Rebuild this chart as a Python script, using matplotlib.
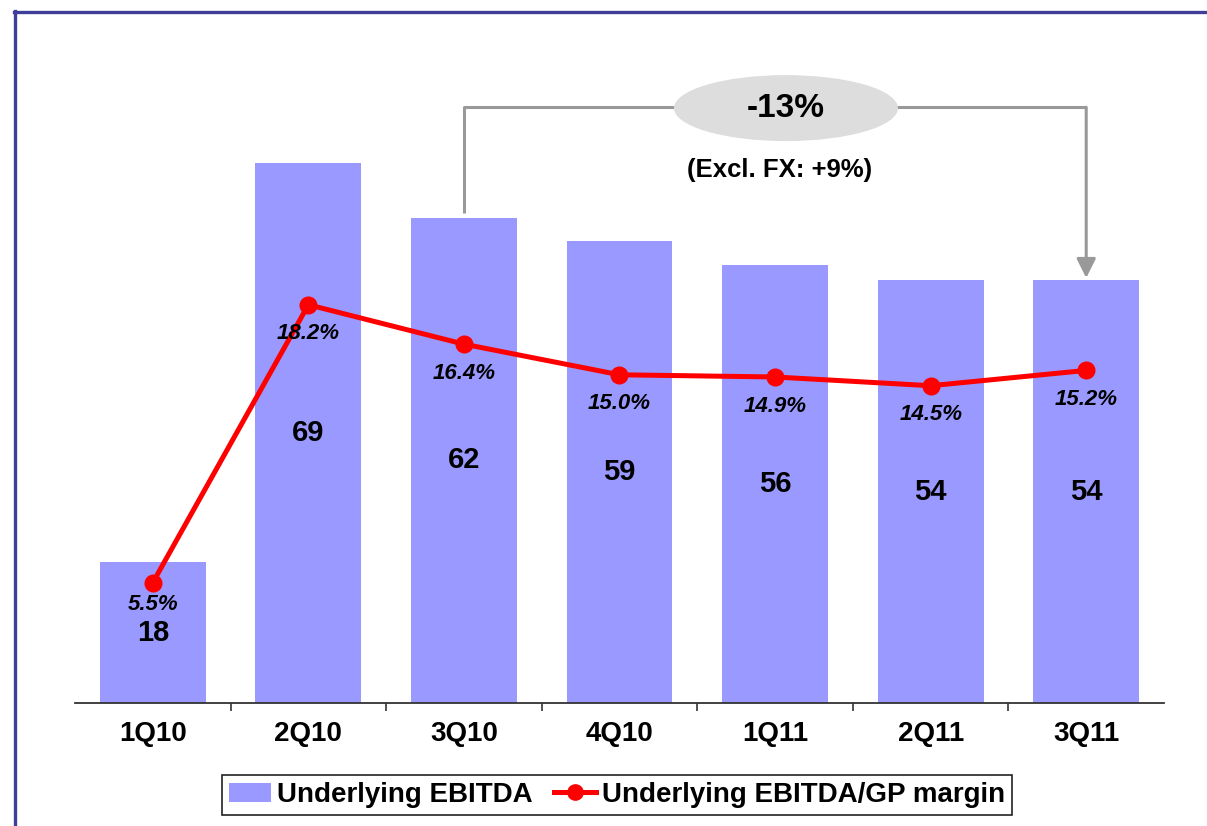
import matplotlib
matplotlib.use("Agg")
import matplotlib.pyplot as plt
from matplotlib.patches import Ellipse, Patch
from matplotlib.lines import Line2D

plt.rcParams["font.family"] = ["Liberation Sans", "DejaVu Sans"]
plt.rcParams["font.weight"] = "bold"

# ---------------------------------------------------------------------------
# Data
# ---------------------------------------------------------------------------
quarters = ["1Q10", "2Q10", "3Q10", "4Q10", "1Q11", "2Q11", "3Q11"]
ebitda = [18, 69, 62, 59, 56, 54, 54]                    # Underlying EBITDA
margin = [5.5, 18.2, 16.4, 15.0, 14.9, 14.5, 15.2]       # EBITDA/GP margin (%)
change_text = "-13%"
fx_text = "(Excl. FX: +9%)"
bracket_from, bracket_to = 2, 6                          # 3Q10 -> 3Q11

BAR_COLOR = "#9999FF"
LINE_COLOR = "#FF0000"
GREY = "#999999"
FRAME = "#3F3F9A"

W, H = 1207, 826
fig = plt.figure(figsize=(W / 100, H / 100), dpi=100)
ax = fig.add_axes([75 / W, 1 - 703 / H, (1164 - 75) / W, 663 / H])

xs = list(range(len(quarters)))
ax.bar(xs, ebitda, width=0.68, color=BAR_COLOR, zorder=2)
ax.set_xlim(-0.5, len(quarters) - 0.5)
ax.set_ylim(0, 84.7)

for x, v in zip(xs, ebitda):
    ax.text(x, v / 2, str(v), ha="center", va="center",
            fontsize=21, fontweight="bold", color="black", zorder=4)

# axis styling
for s in ("top", "right", "left"):
    ax.spines[s].set_visible(False)
ax.spines["bottom"].set_color("#333333")
ax.spines["bottom"].set_linewidth(1.3)
ax.set_yticks([])
ax.set_xticks(xs, quarters)
ax.tick_params(axis="x", which="major", length=0, pad=13, labelsize=20)
for lbl in ax.get_xticklabels():
    lbl.set_fontweight("bold")
ax.set_xticks([x + 0.5 for x in xs[:-1]], minor=True)
ax.tick_params(axis="x", which="minor", length=6, width=1.2, color="#333333")

# ---------------------------------------------------------------------------
# Bracket with ellipse
# ---------------------------------------------------------------------------
y_top = 76.1
ax.plot([bracket_from, bracket_from, bracket_to],
        [ebitda[bracket_from] + 0.6, y_top, y_top],
        color=GREY, lw=2.2, zorder=3, clip_on=False, solid_capstyle="butt")
ax.annotate("", xy=(bracket_to, ebitda[bracket_to] + 0.3),
            xytext=(bracket_to, y_top),
            arrowprops=dict(arrowstyle="-|>,head_length=0.58,head_width=0.29",
                            color=GREY, lw=2.2, shrinkA=0, shrinkB=0,
                            mutation_scale=20),
            annotation_clip=False, zorder=3)
ell = Ellipse((4.07, 76.0), width=1.44, height=8.43,
              facecolor="#DDDDDD", edgecolor="none", zorder=4, clip_on=False)
ax.add_patch(ell)
ax.text(4.07, 76.0, change_text, ha="center", va="center",
        fontsize=24, fontweight="bold", zorder=5)
ax.text(4.03, 68.1, fx_text, ha="center", va="center",
        fontsize=18.5, fontweight="bold", zorder=5)

# ---------------------------------------------------------------------------
# Margin line on secondary axis
# ---------------------------------------------------------------------------
ax2 = ax.twinx()
ax2.set_ylim(0, 30.3)
ax2.plot(xs, margin, color=LINE_COLOR, lw=3.6, marker="o", markersize=12,
         zorder=5)
for s in ax2.spines.values():
    s.set_visible(False)
ax2.set_yticks([])
for x, m in zip(xs, margin):
    # first label sits just above the short bar's value label
    dy = -15.5 if x == 0 else -21
    ax2.annotate(f"{m:.1f}%", (x, m), xytext=(0, dy),
                 textcoords="offset points", ha="center", va="center",
                 fontsize=16, fontweight="bold", fontstyle="italic", zorder=6)

# ---------------------------------------------------------------------------
# Legend
# ---------------------------------------------------------------------------
handles = [
    Patch(facecolor=BAR_COLOR, edgecolor="none", label="Underlying EBITDA"),
    Line2D([], [], color=LINE_COLOR, lw=3.6, marker="o", markersize=11,
           label="Underlying EBITDA/GP margin"),
]
leg = fig.legend(handles=handles, loc="center", ncol=2,
                 bbox_to_anchor=(617 / W, 1 - 795 / H),
                 prop={"size": 20, "weight": "bold"},
                 frameon=True, fancybox=False, edgecolor="#222222",
                 framealpha=1, handlelength=1.5, handletextpad=0.2,
                 columnspacing=0.8, borderpad=0.25)
leg.get_frame().set_linewidth(1.2)

# ---------------------------------------------------------------------------
# Slide frame
# ---------------------------------------------------------------------------
fig.add_artist(Line2D([15 / W, 15 / W], [0, 1 - 11 / H], color=FRAME,
                      lw=2.4, transform=fig.transFigure))
fig.add_artist(Line2D([14 / W, 1], [1 - 12 / H, 1 - 12 / H], color=FRAME,
                      lw=2.4, transform=fig.transFigure))

fig.savefig("out.png", dpi=100)
